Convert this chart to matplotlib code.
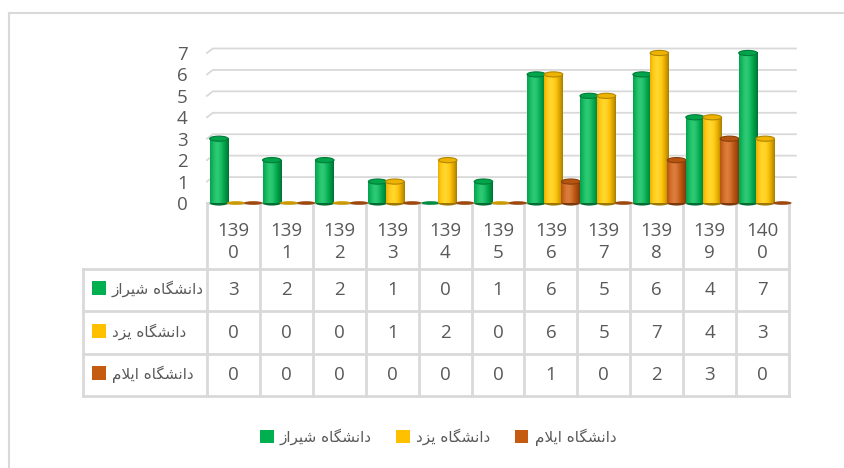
import numpy as np
import matplotlib
matplotlib.use('Agg')
import matplotlib.pyplot as plt
from matplotlib.patches import Ellipse, Rectangle, Patch
from matplotlib.colors import to_rgb

# data
years = ['1390', '1391', '1392', '1393', '1394', '1395',
         '1396', '1397', '1398', '1399', '1400']
series_names = ['دانشگاه شیراز', 'دانشگاه یزد', 'دانشگاه ایلام']
shiraz = [3, 2, 2, 1, 0, 1, 6, 5, 6, 4, 7]
yazd = [0, 0, 0, 1, 2, 0, 6, 5, 7, 4, 3]
ilam = [0, 0, 0, 0, 0, 0, 1, 0, 2, 3, 0]
colors = ['#00B050', '#FFC000', '#C55A11']

TXT = '#595959'
GRID = '#D9D9D9'

plt.rcParams['font.family'] = ['Open Sans', 'DejaVu Sans']

# minimal arabic/persian shaping (matplotlib has no bidi support)
FORMS = {
    'ا': ('\uFE8D', '\uFE8E', None, None),
    'د': ('\uFEA9', '\uFEAA', None, None),
    'ر': ('\uFEAD', '\uFEAE', None, None),
    'ز': ('\uFEAF', '\uFEB0', None, None),
    'ن': ('\uFEE5', '\uFEE6', '\uFEE7', '\uFEE8'),
    'ش': ('\uFEB5', '\uFEB6', '\uFEB7', '\uFEB8'),
    'گ': ('\uFB92', '\uFB93', '\uFB94', '\uFB95'),
    'ه': ('\uFEE9', '\uFEEA', '\uFEEB', '\uFEEC'),
    'ی': ('\uFBFC', '\uFBFD', '\uFBFE', '\uFBFF'),
    'ل': ('\uFEDD', '\uFEDE', '\uFEDF', '\uFEE0'),
    'م': ('\uFEE1', '\uFEE2', '\uFEE3', '\uFEE4'),
}


def shape(s):
    out = []
    i = 0
    while i < len(s):
        c = s[i]
        if c not in FORMS:
            out.append(c)
            i += 1
            continue
        prev = s[i - 1] if i > 0 else ''
        prev_joins = prev in FORMS and FORMS[prev][2] is not None
        if c == 'ل' and i + 1 < len(s) and s[i + 1] == 'ا':
            out.append('\uFEFC' if prev_joins else '\uFEFB')
            i += 2
            continue
        nxt = s[i + 1] if i + 1 < len(s) else ''
        next_ok = nxt in FORMS and FORMS[c][2] is not None
        iso, fin, ini, med = FORMS[c]
        if prev_joins and next_ok:
            out.append(med)
        elif prev_joins:
            out.append(fin)
        elif next_ok:
            out.append(ini)
        else:
            out.append(iso)
        i += 1
    return ''.join(out)[::-1]


W, H = 845, 468
fig = plt.figure(figsize=(W / 100, H / 100), dpi=100)

# plot area (pixel layout of the original)
x_left, x_right = 207, 789
y_zero, y_top = 203, 45
unit = 21.43
col_w = (x_right - x_left) / len(years)

ax = fig.add_axes([x_left / W, (H - y_zero) / H,
                   (x_right - x_left) / W, (y_zero - y_top) / H])

# back wall gridlines with a small 3d stub
dx, dy = 0.11, 0.21
for v in range(1, 8):
    ax.plot([-0.5, -0.5 + dx, 10.5 + 0.13], [v, v + dy, v + dy],
            color=GRID, lw=1.3, zorder=1, clip_on=False)


def cyl_img(col):
    base = np.array(to_rgb(col))
    t = np.linspace(0, 1, 60)
    light = np.clip(1 - ((t - 0.38) / 0.64) ** 2, 0, 1)
    rgb = np.clip(base[None, :] * (0.62 + 0.45 * light[:, None]), 0, 1)
    rgb = rgb + (1 - rgb) * 0.18 * (light[:, None] ** 6)
    return rgb[None, :, :]


bw = 0.35
gap = 0.325
eh = 0.24
all_series = [shiraz, yazd, ilam]
for k, (vals, col) in enumerate(zip(all_series, colors)):
    base = np.array(to_rgb(col))
    img = cyl_img(col)
    for i, v in enumerate(vals):
        xc = i + 0.05 + (k - 1) * gap
        z = 3 + i * 0.1 + k * 0.01
        if v == 0:
            ax.add_patch(Ellipse((xc, 0), bw, eh * 0.7, facecolor=base * 0.8,
                                 edgecolor='none', zorder=z, clip_on=False))
            continue
        ax.add_patch(Ellipse((xc, 0), bw, eh, facecolor=base * 0.62,
                             edgecolor='none', zorder=z, clip_on=False))
        ax.imshow(img, extent=(xc - bw / 2, xc + bw / 2, 0, v), aspect='auto',
                  interpolation='bilinear', zorder=z + 0.001, clip_on=False)
        ax.add_patch(Ellipse((xc, v), bw, eh, facecolor=np.clip(base * 0.93, 0, 1),
                             edgecolor=base * 0.7, lw=0.8, zorder=z + 0.002,
                             clip_on=False))

ax.set_xlim(-0.5, 10.5)
ax.set_ylim(0, (y_zero - y_top) / unit)
ax.set_yticks(range(8))
ax.set_yticklabels([str(v) for v in range(8)])
ax.set_xticks([])
ax.tick_params(axis='y', length=0, pad=14, labelsize=13.5, labelcolor=TXT)
for s in ax.spines.values():
    s.set_visible(False)
ax.patch.set_visible(False)

# overlay in pixel coordinates for the data table, border
ov = fig.add_axes([0, 0, 1, 1], zorder=-1)
ov.set_xlim(0, W)
ov.set_ylim(H, 0)
ov.axis('off')

# outer chart border
ov.plot([9.5, W], [12.5, 12.5], color=GRID, lw=1.5)
ov.plot([9.5, 9.5], [12.5, H], color=GRID, lw=1.5)

tab_left = 83
row_edges = [269, 311, 354, 396]
ov.plot([x_left, x_right], [y_zero, y_zero], color=GRID, lw=2)
for y in row_edges:
    ov.plot([tab_left, x_right], [y, y], color=GRID, lw=2)
ov.plot([tab_left, tab_left], [row_edges[0], row_edges[-1]], color=GRID, lw=2)
for j in range(len(years) + 1):
    xx = x_left + j * col_w
    ov.plot([xx, xx], [y_zero, row_edges[-1]], color=GRID, lw=2)

for j, yr in enumerate(years):
    xc = x_left + (j + 0.5) * col_w
    ov.text(xc, (y_zero + row_edges[0]) / 2 + 6, yr[:3] + '\n' + yr[3:],
            ha='center', va='center', fontsize=13.5, color=TXT, linespacing=1.35)

for r, (name, vals, col) in enumerate(zip(series_names, all_series, colors)):
    yc = (row_edges[r] + row_edges[r + 1]) / 2
    ov.add_patch(Rectangle((92, yc - 9), 14, 14, facecolor=col, edgecolor='none'))
    ov.text(112, yc - 1, shape(name), ha='left', va='center', fontsize=11,
            color=TXT, family='DejaVu Sans')
    for j, v in enumerate(vals):
        xc = x_left + (j + 0.5) * col_w
        ov.text(xc, yc, str(v), ha='center', va='center', fontsize=13.5, color=TXT)

handles = [Patch(facecolor=c, edgecolor='none') for c in colors]
fig.legend(handles, [shape(n) for n in series_names], loc='center',
           bbox_to_anchor=(438 / W, 1 - 437 / H), ncol=3, frameon=False,
           handlelength=0.9, handleheight=0.9, handletextpad=0.4,
           columnspacing=1.6, labelcolor=TXT,
           prop={'family': 'DejaVu Sans', 'size': 11})

fig.savefig('out.png', dpi=100)
